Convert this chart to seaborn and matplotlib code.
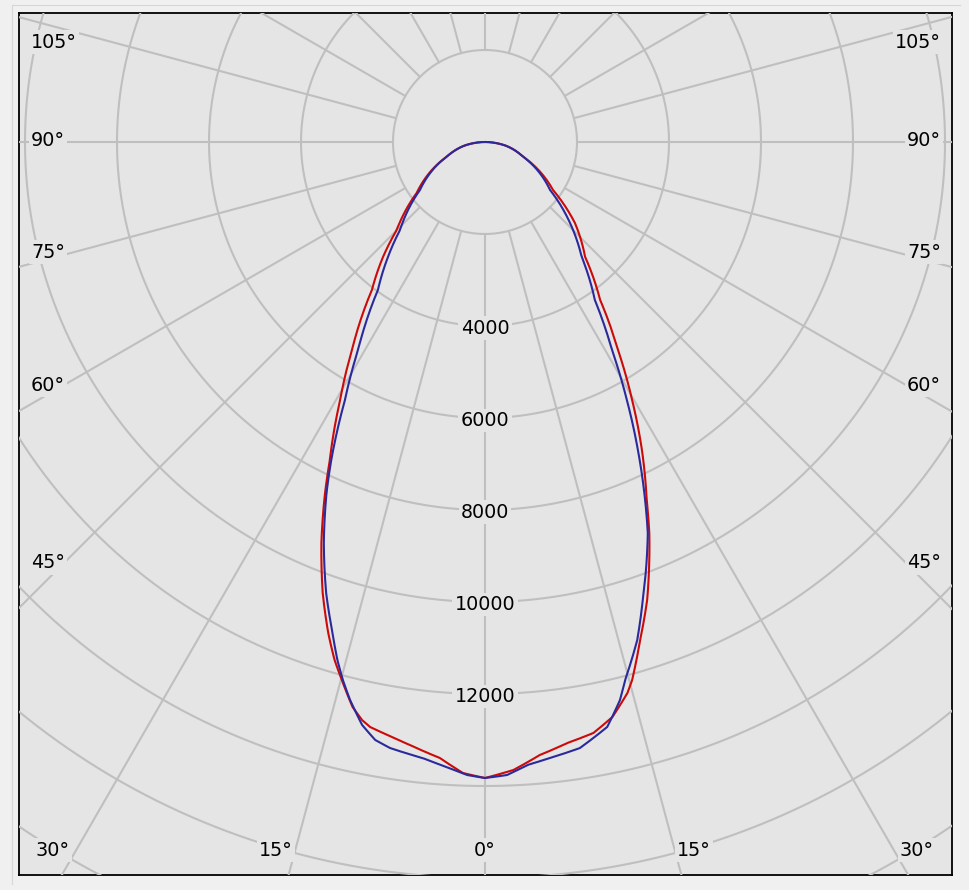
import numpy as np
import pandas as pd
import matplotlib
matplotlib.use("Agg")
import matplotlib.pyplot as plt
import seaborn as sns

# ---------------- data (angle from nadir in degrees, intensity in cd) ----------------
red_left_ang = [0, 2.0, 4.2, 7.1, 9.8, 11.1, 12.0, 13.2, 14.9, 16.2, 17.7, 19.8, 22.2,
                24.5, 26.0, 29.3, 32.6, 37.4, 41.6, 45.1, 53.3, 69.0, 75, 80, 85, 90]
red_left_cd = [13826, 13726, 13426, 13209, 13037, 12961, 12848, 12613, 12104, 11724,
               11207, 10417, 9413, 8385, 7696, 6435, 5367, 4048, 3337, 2711, 1852,
               891, 652, 457, 217, 0]

red_right_ang = [0, 2.6, 5.1, 7.8, 10.4, 12.5, 14.5, 15.3, 17.3, 19.5, 22.8, 24.3, 27.0,
                 29.7, 32.6, 36.1, 41.1, 48.0, 54.8, 68.9, 75, 80, 85, 90]
red_right_cd = [13826, 13665, 13380, 13187, 13061, 12802, 12370, 12124, 11339, 10561,
                9217, 8543, 7515, 6454, 5367, 4248, 3309, 2630, 1809, 885, 652, 457,
                217, 0]

blue_left_ang = [0, 1.6, 3.5, 5.8, 8.9, 10.4, 11.9, 13.6, 14.8, 15.9, 17.4, 19.4, 21.9,
                 24.3, 25.8, 28.5, 31.4, 35.9, 40.2, 44.0, 53.6, 69.0, 75, 80, 85, 90]
blue_left_cd = [13826, 13767, 13613, 13459, 13335, 13217, 12952, 12478, 12096, 11711,
                11120, 10396, 9394, 8372, 7680, 6380, 5298, 3970, 3265, 2659, 1757,
                891, 652, 457, 217, 0]

blue_right_ang = [0, 2.0, 3.9, 6.0, 8.9, 11.8, 13.6, 14.6, 17.0, 19.0, 22.6, 24.1, 26.4,
                  28.8, 31.4, 34.8, 40.1, 46.4, 53.6, 68.9, 75, 80, 85, 90]
blue_right_cd = [13826, 13769, 13574, 13465, 13335, 12991, 12480, 12085, 11320, 10533,
                 9209, 8524, 7476, 6402, 5298, 4185, 3261, 2552, 1757, 885, 652, 457,
                 217, 0]

ring_values = [2000, 4000, 6000, 8000, 10000, 12000, 14000, 16000, 18000, 20000]
ring_labels = [4000, 6000, 8000, 10000, 12000]
spoke_angles = list(range(0, 360, 15))
side_labels = ["105°", "90°", "75°", "60°", "45°"]
bottom_labels = ["30°", "15°", "0°", "15°", "30°"]

# ---------------- style ----------------
sns.set_theme(style="white")
plt.rcParams["font.family"] = ["DejaVu Sans"]

W, H = 969, 890
BG = "#e5e5e5"
OUTER = "#f0f0f0"
GRID = "#bfbfbf"
RED = "#cc0a0a"
BLUE = "#2a2a9c"
FS = 13.8

fig = plt.figure(figsize=(W / 100, H / 100), dpi=100, facecolor=OUTER)

# faint outer bevel line
bevel = fig.add_axes([12 / W, (H - 884) / H, (960 - 12) / W, (884 - 5) / H], zorder=-1)
bevel.set_facecolor(OUTER)
bevel.set_xticks([])
bevel.set_yticks([])
for s in bevel.spines.values():
    s.set_color("#d6d6d6")
    s.set_linewidth(0.8)
bevel.spines["right"].set_visible(False)
bevel.spines["bottom"].set_visible(False)

# frame (plot rectangle)
fl, ft, fr, fb = 19, 13, 952, 875
frame = fig.add_axes([fl / W, (H - fb) / H, (fr - fl) / W, (fb - ft) / H], zorder=0)
frame.set_facecolor(BG)
frame.set_xticks([])
frame.set_yticks([])
for s in frame.spines.values():
    s.set_color("black")
    s.set_linewidth(1.3)

# polar axes centred on the light source
cx, cy = 485, 142
rmax = 20000
R = 920  # pixels for rmax
ax = fig.add_axes([(cx - R) / W, (H - cy - R) / H, 2 * R / W, 2 * R / H],
                  projection="polar", zorder=1)
ax.set_theta_zero_location("S")
ax.set_theta_direction(1)
ax.set_ylim(0, rmax)
ax.set_axis_off()
ax.patch.set_visible(False)

clip = frame.patch
full = np.linspace(0, 2 * np.pi, 1441)
for v in ring_values:
    ln, = ax.plot(full, np.full_like(full, v), color=GRID, lw=1.5, zorder=1)
    ln.set_clip_path(clip)
for a in spoke_angles:
    ln, = ax.plot([np.deg2rad(a)] * 2, [2000, rmax], color=GRID, lw=1.5, zorder=1)
    ln.set_clip_path(clip)

# build curve table
rows = []
for name, la, lv, ra, rv in [("C0-C180", red_left_ang, red_left_cd, red_right_ang, red_right_cd),
                             ("C90-C270", blue_left_ang, blue_left_cd, blue_right_ang, blue_right_cd)]:
    th = [-a for a in la[::-1]] + ra[1:]
    vals = lv[::-1] + rv[1:]
    for t, v in zip(th, vals):
        rows.append({"theta": np.deg2rad(t), "cd": v, "plane": name})
df = pd.DataFrame(rows)

n_before = len(ax.lines)
sns.lineplot(data=df, x="theta", y="cd", hue="plane", sort=False, estimator=None,
             palette={"C0-C180": RED, "C90-C270": BLUE}, legend=False,
             linewidth=1.5, ax=ax, zorder=3)
for ln in ax.lines[n_before:]:
    p = ln.get_path()
    p._interpolation_steps = 24
ax.set_ylim(0, rmax)
ax.set_axis_off()

# ring labels
for v in ring_labels:
    ax.text(0, v + 50, f"{v}", ha="center", va="center", fontsize=FS, color="black",
            zorder=5, bbox=dict(boxstyle="square,pad=0.12", fc=BG, ec="none"))

# angle labels
side_y = [42, 141, 252, 385, 563]
for lab, y in zip(side_labels, side_y):
    for x, ha in [(31, "left"), (941, "right")]:
        fig.text(x / W, 1 - y / H, lab, ha=ha, va="center", fontsize=FS,
                 color="black", zorder=6,
                 bbox=dict(boxstyle="square,pad=0.12", fc=BG, ec="none"))
bottom_x = [53, 276, 485, 694, 917]
for lab, x in zip(bottom_labels, bottom_x):
    fig.text(x / W, 1 - 850 / H, lab, ha="center", va="center", fontsize=FS,
             color="black", zorder=6,
             bbox=dict(boxstyle="square,pad=0.12", fc=BG, ec="none"))

fig.savefig("out.png", dpi=100, facecolor=OUTER)
